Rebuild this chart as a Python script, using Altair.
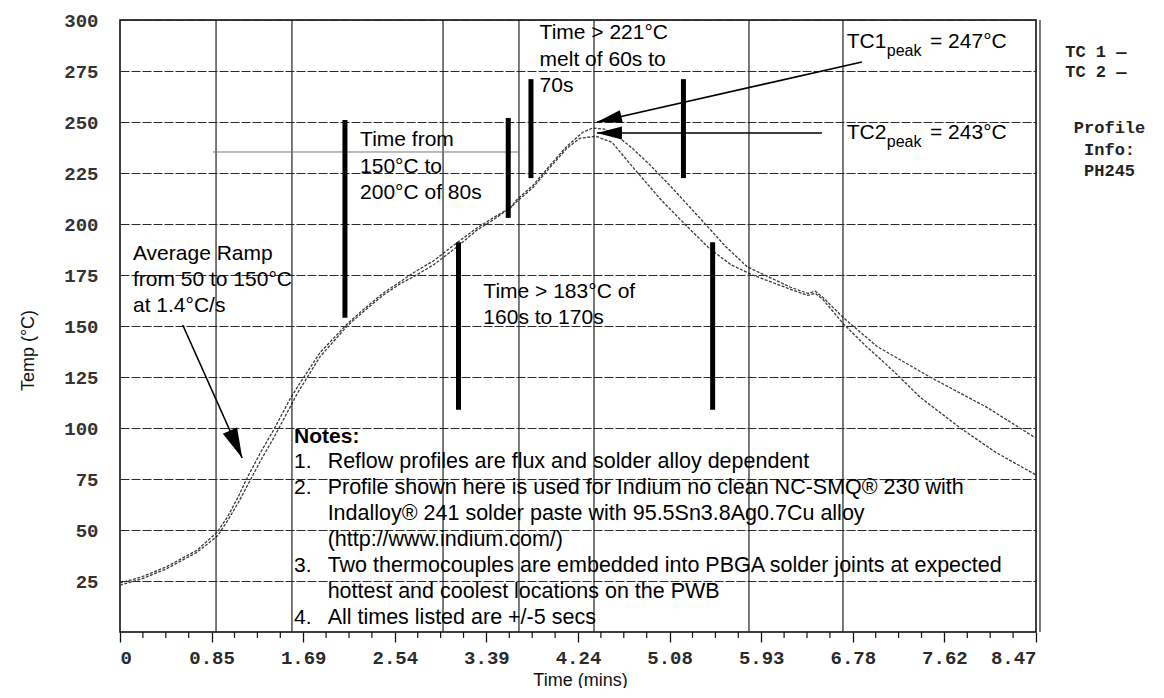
import math
import altair as alt
import pandas as pd

# ---------------- data ----------------
tc1_time = [0.00, 0.20, 0.43, 0.71, 0.90, 1.00, 1.10, 1.17, 1.30, 1.42, 1.57, 1.64, 1.85, 2.10, 2.25, 2.43,
            2.60, 2.71, 2.90, 3.12, 3.30, 3.45, 3.61, 3.67, 3.82, 3.98, 4.13, 4.28, 4.37, 4.48, 4.60, 4.74,
            4.90, 5.10, 5.36, 5.60, 5.80, 6.00, 6.20, 6.36, 6.43, 6.50, 6.69, 7.00, 7.49, 8.02, 8.47]
tc1_temp = [24, 27, 32, 40, 49, 57, 67, 75, 88, 99, 114, 120, 137, 151, 158, 166,
            172, 176, 182, 191, 198, 203, 208, 212, 219, 229, 238, 245, 247, 246.5, 243, 237,
            229, 218, 203, 189, 179, 174, 169, 166, 167, 164, 154, 140, 125, 110, 95]

tc2_time = [0.00, 0.20, 0.43, 0.71, 0.90, 1.00, 1.10, 1.17, 1.30, 1.42, 1.57, 1.64, 1.85, 2.10, 2.25, 2.43,
            2.60, 2.71, 2.90, 3.12, 3.30, 3.45, 3.61, 3.67, 3.82, 3.98, 4.13, 4.25, 4.40, 4.55, 4.74, 5.00,
            5.24, 5.45, 5.65, 5.85, 6.00, 6.20, 6.36, 6.43, 6.50, 6.69, 6.90, 7.15, 7.40, 7.77, 8.10, 8.47]
tc2_temp = [23, 26, 31, 39, 47, 55, 64, 71, 84, 95, 110, 117, 135, 150, 157, 165,
            171, 174, 180, 189, 197, 202, 208, 211, 218, 228, 237, 242, 243, 240, 228, 212,
            199, 188, 180, 175, 172, 168, 165, 166, 163, 151, 140, 128, 115, 100, 88, 77]

x_tick_values = [0, 0.847, 1.694, 2.541, 3.388, 4.235, 5.082, 5.929, 6.776, 7.623, 8.47]
x_tick_labels = ["0", "0.85", "1.69", "2.54", "3.39", "4.24", "5.08", "5.93", "6.78", "7.62", "8.47"]
y_tick_values = [25, 50, 75, 100, 125, 150, 175, 200, 225, 250, 275, 300]
minor_tick_values = [i * 0.847 / 4 for i in range(41) if i % 4 != 0]

# extra vertical grid lines of the original sheet (minutes), incl. the doubled right border
grid_x = [0.888, 1.590, 2.987, 3.689, 4.383, 5.816, 6.685, 8.507]

# thick marker bars: time, temp from, temp to
bar_time = [2.08, 3.13, 3.59, 3.80, 5.21, 5.48]
bar_lo = [154, 109, 203, 222.5, 222.5, 109]
bar_hi = [251, 191, 252, 271, 271, 191]

# arrows: start (time, temp) -> tip (time, temp)
arrow_name = ["ramp", "tc1", "tc2"]
arrow_t0 = [0.58, 6.86, 6.49]
arrow_T0 = [150.5, 279.4, 244.6]
arrow_t1 = [1.13, 4.41, 4.41]
arrow_T1 = [85.3, 250.0, 244.6]
arrow_head = [3600, 2500, 2500]

# annotation texts (time, temp)
ann_text = ["Average Ramp", "from 50 to 150°C", "at 1.4°C/s",
            "Time from", "150°C to", "200°C of 80s",
            "Time > 183°C of", "160s to 170s",
            "Time > 221°C", "melt of 60s to", "70s",
            "TC1", "= 247°C", "TC2", "= 243°C"]
ann_t = [0.12, 0.12, 0.12, 2.22, 2.22, 2.22, 3.36, 3.36, 3.88, 3.88, 3.88, 6.72, 7.49, 6.72, 7.49]
ann_T = [185.3, 172.5, 159.8, 241.2, 228.0, 215.2, 166.7, 153.9, 293.6, 280.4, 267.6, 289.2, 289.2, 244.6, 244.6]

sub_text = ["peak", "peak"]
sub_t = [7.09, 7.09]
sub_T = [285.0, 240.4]

notes_num = ["1.", "2.", "3.", "4."]
notes_num_T = [83.3, 70.6, 32.4, 6.9]
notes_text = ["Reflow profiles are flux and solder alloy dependent",
              "Profile shown here is used for Indium no clean NC-SMQ® 230 with",
              "Indalloy® 241 solder paste with 95.5Sn3.8Ag0.7Cu alloy",
              "(http://www.indium.com/)",
              "Two thermocouples are embedded into PBGA solder joints at expected",
              "hottest and coolest locations on the PWB",
              "All times listed are +/-5 secs"]
notes_text_T = [83.3, 70.6, 57.8, 45.1, 32.4, 19.6, 6.9]

legend_series = ["TC 1  —", "TC 2  —"]
legend_series_T = [284.3, 274.3]
legend_info = ["Profile", "Info:", "PH245"]
legend_info_T = [247.0, 236.5, 226.0]

stray_line_t = [0.86, 3.70]
stray_line_T = [235.3, 235.3]

# ---------------- layout ----------------
W, H = 916, 612
XMAX, YMAX = 8.47, 300
px_t = W / XMAX
px_T = H / YMAX

xs = alt.Scale(domain=[0, XMAX], nice=False, zero=False)
ys = alt.Scale(domain=[0, YMAX], nice=False, zero=False)
SANS = "Liberation Sans"
MONO = "Liberation Mono"

label_expr = "[" + ",".join("'%s'" % s for s in x_tick_labels) + "][round(datum.value / 0.847)]"

curves = pd.DataFrame({
    "t": tc1_time + tc2_time,
    "T": tc1_temp + tc2_temp,
    "series": ["TC 1"] * len(tc1_time) + ["TC 2"] * len(tc2_time),
})

base_x_axis = alt.Axis(values=x_tick_values, labelExpr=label_expr, grid=False, domain=False,
                       tickSize=10, tickColor="#111", tickWidth=1.3,
                       labelFont=MONO, labelFontSize=19, labelFontWeight="bold", labelColor="#2a2a2a",
                       labelPadding=6, title="Time (mins)", titleFont=SANS, titleFontSize=18,
                       titleFontWeight="normal", titleColor="#111", titleX=460, titleY=48,
                       titleBaseline="middle", titleAnchor="start", titleAlign="center")
base_y_axis = alt.Axis(values=y_tick_values, grid=True, gridColor="#2a2a2a", gridWidth=1,
                       gridDash=[9, 2], domain=False, ticks=False,
                       labelFont=MONO, labelFontSize=19, labelFontWeight="bold", labelColor="#333",
                       labelPadding=22, labelBaseline="middle",
                       title="Temp (°C)", titleFont=SANS, titleFontSize=18, titleFontWeight="normal",
                       titleColor="#111", titleX=-92, titleY=330, titleAngle=270,
                       titleAlign="center", titleBaseline="middle", titleAnchor="start")


def X(field):
    return alt.X(field, scale=xs, axis=base_x_axis)


def Y(field):
    return alt.Y(field, scale=ys, axis=base_y_axis)


curve_layer = alt.Chart(curves).mark_line(color="#3a3a3a", strokeWidth=1.3, strokeDash=[3, 1.5]).encode(
    x=X("t:Q"), y=Y("T:Q"), detail="series:N",
)

grid_layer = alt.Chart(pd.DataFrame({"t": grid_x})).mark_rule(color="#222", strokeWidth=1.2).encode(
    x=X("t:Q")
)

stray_layer = alt.Chart(pd.DataFrame({"t": stray_line_t, "T": stray_line_T})).mark_line(
    color="#777", strokeWidth=1).encode(x=X("t:Q"), y=Y("T:Q"))

minor_layer = alt.Chart(pd.DataFrame({"t": minor_tick_values})).mark_rule(color="#111", strokeWidth=1.2).encode(
    x=X("t:Q"), y=alt.value(H), y2=alt.value(H + 6))

bars = pd.DataFrame({"t": bar_time, "lo": bar_lo, "hi": bar_hi})
bar_layer = alt.Chart(bars).mark_rule(color="black", strokeWidth=5).encode(
    x=X("t:Q"), y=Y("lo:Q"), y2="hi:Q")

arrows = pd.DataFrame({"name": arrow_name, "t0": arrow_t0, "T0": arrow_T0, "t1": arrow_t1,
                       "T1": arrow_T1, "head": arrow_head})
arrows["ang"] = [
    (math.degrees(math.atan2(-(b1 - b0) * px_T, (a1 - a0) * px_t)) + 360) % 360
    for a0, b0, a1, b1 in zip(arrow_t0, arrow_T0, arrow_t1, arrow_T1)
]
arrow_lines = alt.Chart(arrows).mark_rule(color="black", strokeWidth=1.6).encode(
    x=X("t0:Q"), y=Y("T0:Q"), x2="t1:Q", y2="T1:Q")
arrow_heads = alt.Chart(arrows).mark_point(
    shape="M 0 0 L -1 -0.26 L -1 0.26 Z", filled=True, color="black", opacity=1, strokeWidth=0).encode(
    x=X("t1:Q"), y=Y("T1:Q"),
    size=alt.Size("head:Q", scale=None, legend=None),
    angle=alt.Angle("ang:Q", scale=None))

ann = pd.DataFrame({"t": ann_t, "T": ann_T, "text": ann_text})
ann_layer = alt.Chart(ann).mark_text(align="left", baseline="middle", font=SANS, fontSize=21,
                                     color="black").encode(x=X("t:Q"), y=Y("T:Q"), text="text:N")

sub = pd.DataFrame({"t": sub_t, "T": sub_T, "text": sub_text})
sub_layer = alt.Chart(sub).mark_text(align="left", baseline="middle", font=SANS, fontSize=16,
                                     color="black").encode(x=X("t:Q"), y=Y("T:Q"), text="text:N")

notes_head = alt.Chart(pd.DataFrame({"t": [1.61], "T": [95.6], "text": ["Notes:"]})).mark_text(
    align="left", baseline="middle", font=SANS, fontSize=21, fontWeight="bold", color="black").encode(
    x=X("t:Q"), y=Y("T:Q"), text="text:N")

notes_n = alt.Chart(pd.DataFrame({"t": [1.61] * 4, "T": notes_num_T, "text": notes_num})).mark_text(
    align="left", baseline="middle", font=SANS, fontSize=21, color="black").encode(
    x=X("t:Q"), y=Y("T:Q"), text="text:N")

notes_t = alt.Chart(pd.DataFrame({"t": [1.92] * len(notes_text), "T": notes_text_T,
                                  "text": notes_text})).mark_text(
    align="left", baseline="middle", font=SANS, fontSize=21.5, color="black").encode(
    x=X("t:Q"), y=Y("T:Q"), text="text:N")

legend_a = alt.Chart(pd.DataFrame({"t": [8.74] * len(legend_series), "T": legend_series_T,
                                   "text": legend_series})).mark_text(
    align="left", baseline="middle", font=MONO, fontSize=17, fontWeight="bold", color="#222").encode(
    x=X("t:Q"), y=Y("T:Q"), text="text:N")

legend_b = alt.Chart(pd.DataFrame({"t": [9.15] * len(legend_info), "T": legend_info_T,
                                   "text": legend_info})).mark_text(
    align="center", baseline="middle", font=MONO, fontSize=17, fontWeight="bold", color="#222").encode(
    x=X("t:Q"), y=Y("T:Q"), text="text:N")

chart = alt.layer(
    curve_layer, grid_layer, stray_layer, minor_layer, bar_layer, arrow_lines, arrow_heads,
    ann_layer, sub_layer, notes_head, notes_n, notes_t, legend_a, legend_b,
).properties(
    width=W, height=H,
    autosize=alt.AutoSizeParams(type="none"),
    padding={"left": 112, "top": 12, "right": 120, "bottom": 56},
    background="white",
).configure_view(stroke="black", strokeWidth=1.5)

chart.save("out.html", embed_options={"renderer": "svg", "actions": False})
